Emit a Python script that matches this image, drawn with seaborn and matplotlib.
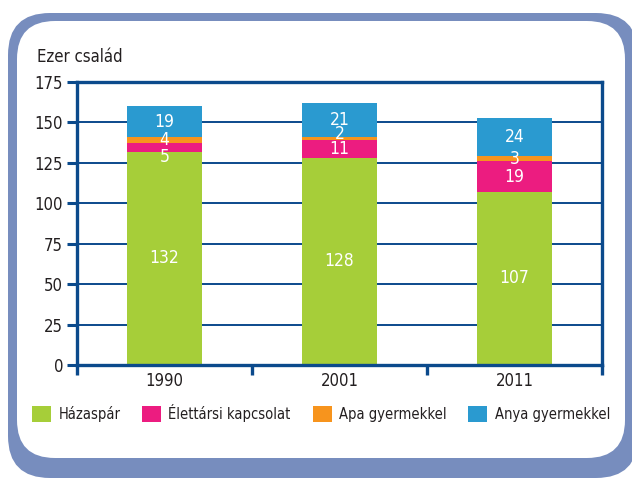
import numpy as np
import pandas as pd
import matplotlib.pyplot as plt
import seaborn as sns
from matplotlib.patches import FancyBboxPatch, Patch

# data (thousand families)
years = ['1990', '2001', '2011']
hazaspar = [132, 128, 107]
elettarsi = [5, 11, 19]
apa = [4, 2, 3]
anya = [19, 21, 24]

series_names = ['Házaspár', 'Élettársi kapcsolat', 'Apa gyermekkel', 'Anya gyermekkel']
series_vals = [hazaspar, elettarsi, apa, anya]
colors = ['#A6CE39', '#EC1C80', '#F7941D', '#2A9AD0']
axis_blue = '#0B4A8C'
text_col = '#231F20'

sns.set_style('white')
plt.rcParams['font.family'] = ['DejaVu Sans']
plt.rcParams['font.stretch'] = 'condensed'
plt.rcParams['text.color'] = text_col
plt.rcParams['xtick.color'] = text_col
plt.rcParams['ytick.color'] = text_col

fig = plt.figure(figsize=(6.32, 4.8), dpi=100)

# rounded frame (in inches)
outer = FancyBboxPatch((0.08, 0.02), 6.3, 4.65, boxstyle='round,pad=0,rounding_size=0.42',
                       transform=fig.dpi_scale_trans, facecolor='#778DBE', edgecolor='none', zorder=-2)
inner = FancyBboxPatch((0.17, 0.22), 6.08, 4.37, boxstyle='round,pad=0,rounding_size=0.38',
                       transform=fig.dpi_scale_trans, facecolor='white', edgecolor='none', zorder=-1)
fig.patches.extend([outer, inner])

ax = fig.add_axes([0.1218, 0.2396, 0.8307, 0.5896])
ax.patch.set_alpha(0)

df = pd.DataFrame({'year': years})
cum = np.cumsum(np.array(series_vals), axis=0)
# draw cumulative totals from the top down so each layer covers the one above
for i in range(len(series_names) - 1, -1, -1):
    df['v'] = cum[i]
    sns.barplot(data=df, x='year', y='v', color=colors[i], saturation=1, width=0.43,
                linewidth=0, ax=ax, zorder=2)

# segment labels; the thin segments' labels are shifted a bit like the original
nudge = {(1, 0): -6, (2, 1): 3}
for j in range(len(years)):
    for i in range(len(series_names)):
        lo = cum[i][j] - series_vals[i][j]
        mid = lo + series_vals[i][j] / 2 + nudge.get((i, j), 0)
        ax.text(j, mid, str(series_vals[i][j]), ha='center', va='center',
                color='white', fontsize=12.5, zorder=4)

ax.set_xlim(-0.5, 2.5)
ax.set_ylim(0, 175)
ax.set_yticks(range(0, 176, 25))
ax.set_xlabel('')
ax.set_ylabel('')
ax.yaxis.grid(True, color=axis_blue, linewidth=1.4, zorder=0)
ax.set_axisbelow(True)
for s in ax.spines.values():
    s.set_visible(True)
    s.set_color(axis_blue)
    s.set_linewidth(2.4)
ax.tick_params(axis='y', direction='out', length=7, width=2.2, color=axis_blue,
               labelsize=12, pad=3, left=True)
ax.tick_params(axis='x', which='major', length=0, labelsize=12, pad=5)
ax.set_xticks([-0.5, 0.5, 1.5, 2.5], minor=True)
ax.tick_params(axis='x', which='minor', direction='out', length=7, width=2.4,
               color=axis_blue, bottom=True)

fig.text(0.0585, 0.881, 'Ezer család', fontsize=12, ha='left', va='center')

handles = [Patch(facecolor=c, edgecolor='none') for c in colors]
fig.legend(handles, series_names, loc='center', bbox_to_anchor=(0.508, 0.14), ncol=4,
           frameon=False, fontsize=10.5, handlelength=1.3, handleheight=1.3,
           handletextpad=0.5, columnspacing=1.5, borderpad=0, borderaxespad=0)

fig.savefig('out.png', dpi=100)
